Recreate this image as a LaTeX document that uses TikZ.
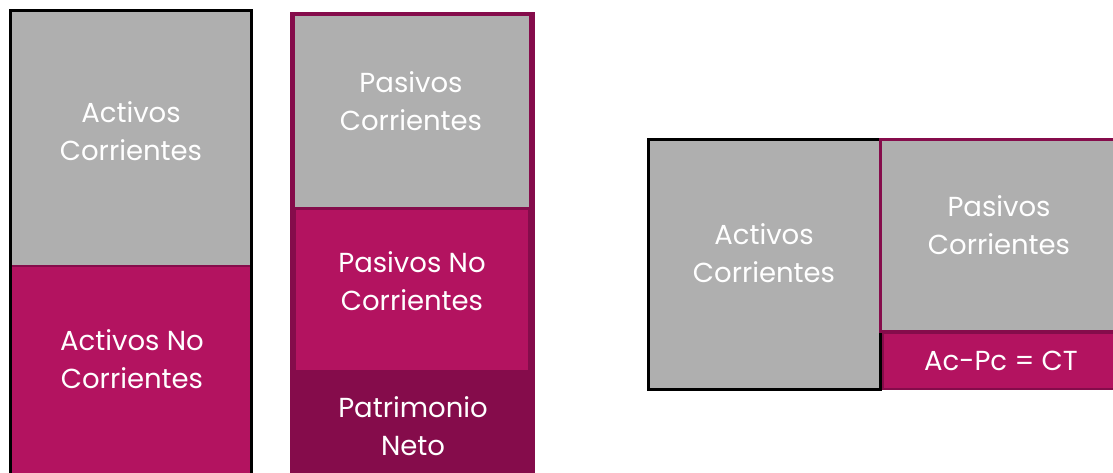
\documentclass[tikz,border=0pt]{standalone}
\usepackage{fontspec}
\setmainfont{Poppins}
\definecolor{grayfill}{HTML}{AFAFAF}
\definecolor{mag}{HTML}{B31360}
\definecolor{darkmag}{HTML}{850C4B}
\begin{document}
\begin{tikzpicture}[x=1pt,y=-1pt,
  lbl/.style={text=white,align=center,inner sep=0pt,font=\fontsize{27.5}{38.5}\selectfont},
  box/.style={rectangle,inner sep=0pt,outer sep=0pt}]
\useasboundingbox (0,0) rectangle (1113,472);
% ---- left column
\node[box,fill=grayfill,minimum width=238,minimum height=254] (ac) at (131,139) {};
\node[box,fill=mag,draw=darkmag,line width=1.2,minimum width=240,minimum height=208] (anc) at (131.5,370) {};
\draw[line width=3,black] (10.5,480) -- (10.5,10.5) -- (251.5,10.5) -- (251.5,480);
\node[lbl] (acT) at (131,131) {Activos\\Corrientes};
\node[lbl] (ancT) at (132,359) {Activos No\\Corrientes};
% ---- middle column
\node[box,fill=darkmag,minimum width=245,minimum height=462] (mid) at (412.5,243) {};
\node[box,fill=grayfill,minimum width=234,minimum height=191] (pc) at (411.5,111.5) {};
\node[box,fill=mag,draw=darkmag,line width=1.2,minimum width=234,minimum height=162] (pnc) at (412,290) {};
\node[lbl] (pcT) at (411,101) {Pasivos\\Corrientes};
\node[lbl] (pncT) at (412,281) {Pasivos No\\Corrientes};
\node[lbl] (pn) at (413,426) {Patrimonio\\Neto};
% ---- right group
\node[box,fill=grayfill,draw=black,line width=3,minimum width=232,minimum height=250] (ac2) at (764,264) {};
\node[box,fill=grayfill,draw=darkmag,line width=3,minimum width=236,minimum height=192] (pc2) at (998,235) {};
\node[box,fill=mag,draw=darkmag,line width=1.5,minimum width=234,minimum height=56] (ct) at (1000,361) {};
\node[lbl] (ac2T) at (764,253) {Activos\\Corrientes};
\node[lbl] (pc2T) at (999,225) {Pasivos\\Corrientes};
\node[lbl] (ctT) at (1001,361) {Ac-Pc = CT};
\end{tikzpicture}
\end{document}
